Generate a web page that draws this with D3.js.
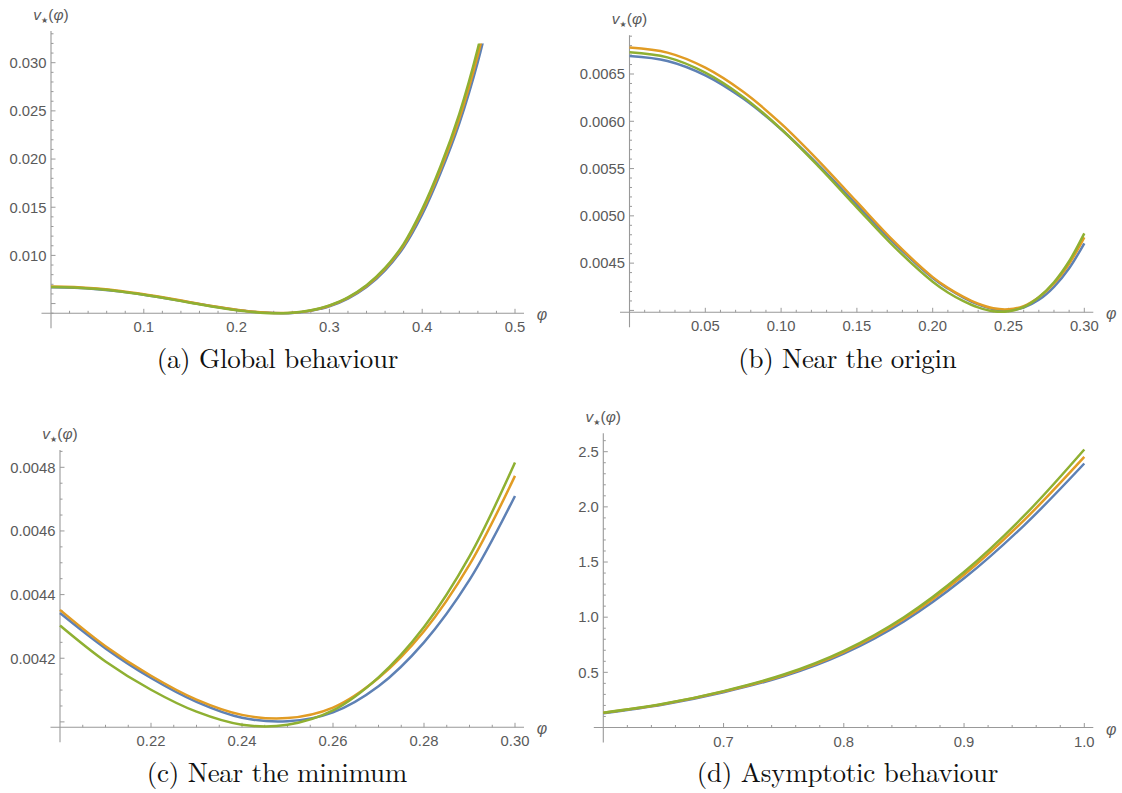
<!DOCTYPE html>
<html><head><meta charset="utf-8">
<script src="https://cdn.jsdelivr.net/npm/d3@7"></script>
<style>
html,body{margin:0;padding:0;background:#fff;}
svg{display:block;}
</style></head><body>
<svg id="chart" width="1122" height="793"></svg>
<script>
// ---------- data ----------
const phiLow = [0, 0.025, 0.05, 0.075, 0.1, 0.125, 0.15, 0.175, 0.2, 0.21, 0.22, 0.23, 0.24, 0.25, 0.26, 0.27, 0.28, 0.29, 0.30, 0.32, 0.34, 0.36, 0.38, 0.40, 0.42, 0.44, 0.46, 0.48];
const blueLow   = [0.00669, 0.006638, 0.006486, 0.006240, 0.005916, 0.005532, 0.005117, 0.004705, 0.004342, 0.004231, 0.004138, 0.004063, 0.004013, 0.004002, 0.004030, 0.004112, 0.004250, 0.004446, 0.00471, 0.00552, 0.00672, 0.00845, 0.01085, 0.01425, 0.0186, 0.0237, 0.0301, 0.0382];
const orangeLow = [0.00678, 0.006726, 0.006567, 0.006312, 0.005975, 0.005577, 0.005147, 0.004722, 0.004352, 0.004238, 0.004145, 0.004070, 0.004022, 0.004012, 0.004045, 0.004138, 0.004285, 0.004494, 0.004773, 0.00560, 0.00683, 0.00860, 0.01105, 0.01458, 0.0190, 0.0242, 0.0308, 0.0391];
const greenLow  = [0.00673, 0.006676, 0.006515, 0.006258, 0.005918, 0.005518, 0.005088, 0.004667, 0.004303, 0.004190, 0.004101, 0.004032, 0.003991, 0.003991, 0.004036, 0.004140, 0.004298, 0.004520, 0.004815, 0.00565, 0.0069, 0.0087, 0.0112, 0.0148, 0.0193, 0.0247, 0.0315, 0.0400];

const phiHigh    = [0.6, 0.65, 0.7, 0.75, 0.8, 0.85, 0.9, 0.95, 1.0];
const blueHigh   = [0.130, 0.209, 0.320, 0.464, 0.670, 0.962, 1.352, 1.833, 2.393];
const orangeHigh = [0.133, 0.213, 0.326, 0.474, 0.684, 0.983, 1.384, 1.880, 2.453];
const greenHigh  = [0.134, 0.215, 0.330, 0.480, 0.695, 1.000, 1.410, 1.920, 2.520];

// tick labels
const xTicksA = [0.1, 0.2, 0.3, 0.4, 0.5];
const xLabelsA = ["0.1", "0.2", "0.3", "0.4", "0.5"];
const yTicksA = [0.010, 0.015, 0.020, 0.025, 0.030];
const yLabelsA = ["0.010", "0.015", "0.020", "0.025", "0.030"];
const xTicksB = [0.05, 0.10, 0.15, 0.20, 0.25, 0.30];
const xLabelsB = ["0.05", "0.10", "0.15", "0.20", "0.25", "0.30"];
const yTicksB = [0.0045, 0.0050, 0.0055, 0.0060, 0.0065];
const yLabelsB = ["0.0045", "0.0050", "0.0055", "0.0060", "0.0065"];
const xTicksC = [0.22, 0.24, 0.26, 0.28, 0.30];
const xLabelsC = ["0.22", "0.24", "0.26", "0.28", "0.30"];
const yTicksC = [0.0042, 0.0044, 0.0046, 0.0048];
const yLabelsC = ["0.0042", "0.0044", "0.0046", "0.0048"];
const xTicksD = [0.7, 0.8, 0.9, 1.0];
const xLabelsD = ["0.7", "0.8", "0.9", "1.0"];
const yTicksD = [0.5, 1.0, 1.5, 2.0, 2.5];
const yLabelsD = ["0.5", "1.0", "1.5", "2.0", "2.5"];

const captions = ["(a) Global behaviour", "(b) Near the origin", "(c) Near the minimum", "(d) Asymptotic behaviour"];

// ---------- layout ----------
const colors = ["#5E81B5", "#E19C24", "#8FB032"];
const lowSeries = [blueLow, orangeLow, greenLow];
const highSeries = [blueHigh, orangeHigh, greenHigh];

const panels = [
  {xDomain:[0,0.5], xRange:[51,515], yDomain:[0.00399,0.030], yRange:[313.3,62.7], yTop:0.0333, clipTop:0.032,
   phi:phiLow, series:lowSeries, filt:[0,0.48],
   xMajor:xTicksA, xLabels:xLabelsA, xMinor:[0.02,0.5,0.02],
   yMajor:yTicksA, yLabels:yLabelsA, yExtra:[0.005], yMinor:[0.004,0.033,0.001],
   cap:captions[0], capX:277.5, capY:368, capW:241.7},
  {xDomain:[0,0.3], xRange:[629.5,1084.3], yDomain:[0.00398,0.0065], yRange:[312.3,74], yTop:0.00691, clipTop:0.00691,
   phi:phiLow, series:lowSeries, filt:[0,0.3],
   xMajor:xTicksB, xLabels:xLabelsB, xMinor:[0.01,0.3,0.01],
   yMajor:yTicksB, yLabels:yLabelsB, yExtra:[0.0040], yMinor:[0.0040,0.0069,0.0001],
   cap:captions[1], capX:847.5, capY:368, capW:218.4},
  {xDomain:[0.2,0.3], xRange:[60,515], yDomain:[0.003983,0.0048], yRange:[727.3,467.3], yTop:0.004854, clipTop:0.004854,
   phi:phiLow, series:lowSeries, filt:[0.2,0.3],
   xMajor:xTicksC, xLabels:xLabelsC, xMinor:[0.205,0.3,0.005],
   yMajor:yTicksC, yLabels:yLabelsC, yExtra:[0.0040], yMinor:[0.0040,0.00485,0.00005],
   cap:captions[2], capX:277, capY:782, capW:260.6},
  {xDomain:[0.6,1.0], xRange:[603.3,1084.3], yDomain:[0,2.5], yRange:[727.5,451.7], yTop:2.667, clipTop:2.667,
   phi:phiHigh, series:highSeries, filt:[0.6,1.0],
   xMajor:xTicksD, xLabels:xLabelsD, xMinor:[0.62,1.0,0.02],
   yMajor:yTicksD, yLabels:yLabelsD, yExtra:[], yMinor:[0.1,2.6,0.1],
   cap:captions[3], capX:847.5, capY:782, capW:301.6}
];

const svg = d3.select("#chart");
const axisColor = "#999999";
const labelColor = "#5a5a5a";
const sans = "'Liberation Sans', Arial, sans-serif";

function rangeStep(lo, hi, step) {
  const n = Math.round((hi - lo) / step);
  return d3.range(n + 1).map(i => +(lo + i * step).toFixed(8));
}

panels.forEach((p, pi) => {
  const x = d3.scaleLinear().domain(p.xDomain).range(p.xRange);
  const y = d3.scaleLinear().domain(p.yDomain).range(p.yRange);
  const g = svg.append("g");
  const axisY = y(p.yDomain[0]);
  const axisX = x(p.xDomain[0]);

  // clip
  const cid = "clip" + pi;
  svg.append("defs").append("clipPath").attr("id", cid)
    .append("rect")
    .attr("x", x(p.xDomain[0]) - 2).attr("y", y(p.clipTop))
    .attr("width", x(p.xDomain[1]) - x(p.xDomain[0]) + 4)
    .attr("height", axisY - y(p.clipTop) + 4);

  // axes lines
  g.append("line").attr("x1", axisX - 9.5).attr("x2", x(p.xDomain[1]) + 9)
    .attr("y1", axisY).attr("y2", axisY).attr("stroke", axisColor).attr("stroke-width", 1.1);
  g.append("line").attr("x1", axisX).attr("x2", axisX)
    .attr("y1", y(p.yTop)).attr("y2", axisY + 15).attr("stroke", axisColor).attr("stroke-width", 1.1);

  // x ticks
  const isMajorX = v => p.xMajor.some(m => Math.abs(m - v) < 1e-9);
  const xMin = rangeStep(p.xMinor[0], p.xMinor[1], p.xMinor[2]).filter(v => !isMajorX(v));
  g.selectAll(null).data(xMin).enter().append("line")
    .attr("x1", d => x(d)).attr("x2", d => x(d)).attr("y1", axisY).attr("y2", axisY - 2.5)
    .attr("stroke", axisColor).attr("stroke-width", 1);
  g.selectAll(null).data(p.xMajor).enter().append("line")
    .attr("x1", d => x(d)).attr("x2", d => x(d)).attr("y1", axisY).attr("y2", axisY - 4.5)
    .attr("stroke", axisColor).attr("stroke-width", 1);
  g.selectAll(null).data(p.xMajor).enter().append("text")
    .attr("x", d => x(d)).attr("y", axisY + 19)
    .attr("text-anchor", "middle").attr("font-family", sans).attr("font-size", 14.8)
    .attr("fill", labelColor).text((d, i) => p.xLabels[i]);

  // y ticks
  const allMajY = p.yMajor.concat(p.yExtra);
  const isMajorY = v => allMajY.some(m => Math.abs(m - v) < 1e-9);
  const yMin = rangeStep(p.yMinor[0], p.yMinor[1], p.yMinor[2]).filter(v => !isMajorY(v));
  g.selectAll(null).data(yMin).enter().append("line")
    .attr("x1", axisX).attr("x2", axisX + 2.5).attr("y1", d => y(d)).attr("y2", d => y(d))
    .attr("stroke", axisColor).attr("stroke-width", 1);
  g.selectAll(null).data(allMajY).enter().append("line")
    .attr("x1", axisX).attr("x2", axisX + 4.5).attr("y1", d => y(d)).attr("y2", d => y(d))
    .attr("stroke", axisColor).attr("stroke-width", 1);
  g.selectAll(null).data(p.yMajor).enter().append("text")
    .attr("x", axisX - 4.5).attr("y", d => y(d) + 5.3)
    .attr("text-anchor", "end").attr("font-family", sans).attr("font-size", 14.8)
    .attr("fill", labelColor).text((d, i) => p.yLabels[i]);

  // axis labels
  const yl = g.append("text").attr("x", axisX).attr("y", y(p.yTop) - 11)
    .attr("text-anchor", "middle").attr("font-family", sans).attr("font-size", 15.5).attr("fill", labelColor);
  yl.append("tspan").attr("font-style", "italic").text("v");
  yl.append("tspan").attr("font-size", 8).attr("dy", 3).attr("font-family", "'DejaVu Sans', sans-serif").text("★");
  yl.append("tspan").attr("dy", -3).text("(");
  yl.append("tspan").attr("font-style", "italic").text("φ");
  yl.append("tspan").text(")");

  g.append("text").attr("x", x(p.xDomain[1]) + 27).attr("y", axisY + 7)
    .attr("text-anchor", "middle").attr("font-family", sans).attr("font-size", 16)
    .attr("font-style", "italic").attr("fill", labelColor).text("φ");

  // curves
  const pts = p.series.map(s => p.phi.map((ph, i) => [ph, s[i]]).filter(d => d[0] >= p.filt[0] - 1e-9 && d[0] <= p.filt[1] + 1e-9));
  const line = d3.line().x(d => x(d[0])).y(d => y(d[1])).curve(d3.curveCatmullRom.alpha(0.5));
  const cg = g.append("g").attr("clip-path", `url(#${cid})`);
  pts.forEach((d, i) => {
    cg.append("path").attr("d", line(d)).attr("fill", "none")
      .attr("stroke", colors[i]).attr("stroke-width", 2.5).attr("stroke-linejoin", "round");
  });

  // caption
  g.append("text").attr("x", p.capX).attr("y", p.capY).attr("text-anchor", "middle")
    .attr("font-family", "'Latin Modern Roman','CMU Serif','Liberation Serif','Times New Roman',serif")
    .attr("font-size", 27).attr("fill", "#111")
    .attr("textLength", p.capW).attr("lengthAdjust", "spacing")
    .text(p.cap);
});
</script>
</body></html>
